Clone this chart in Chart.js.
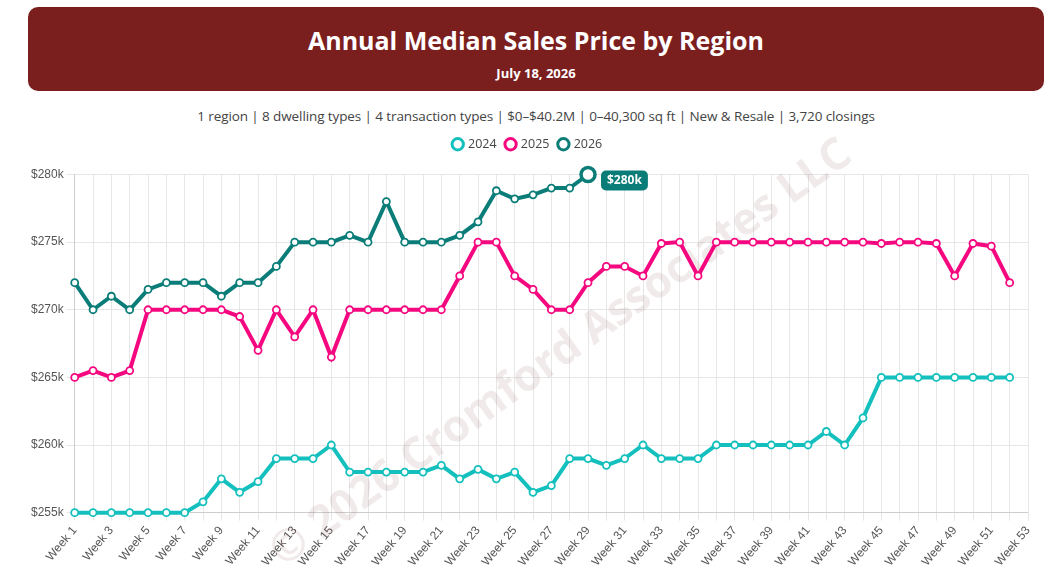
<!DOCTYPE html>
<html>
<head>
<meta charset="utf-8">
<script src="https://cdn.jsdelivr.net/npm/chart.js@4"></script>
<style>
  body { margin: 0; width: 1050px; height: 580px; background: #fff; font-family: "Open Sans", sans-serif; overflow: hidden; }
  .header { position: absolute; left: 28px; top: 7px; width: 1016px; height: 84px; background: #7b1e1e; border-radius: 10px; color: #fff; text-align: center; }
  .header h1 { margin: 16px 0 0; font-size: 25px; font-weight: 700; }
  .header .date { margin-top: 7px; font-size: 13px; font-weight: 700; }
  .sub { position: absolute; left: 0; top: 107px; width: 1072px; text-align: center; font-size: 13.5px; color: #444; letter-spacing: -0.1px; }
  .wrap { position: absolute; left: 0; top: 128px; width: 1050px; height: 452px; }
</style>
</head>
<body>
<div class="header"><h1>Annual Median Sales Price by Region</h1><div class="date">July 18, 2026</div></div>
<div class="sub">1 region | 8 dwelling types | 4 transaction types | $0–$40.2M | 0–40,300 sq ft | New &amp; Resale | 3,720 closings</div>
<div class="wrap"><canvas id="chart"></canvas></div>
<script>
// weekly labels
const weeks = [];
for (let i = 1; i <= 53; i++) weeks.push('Week ' + i);

// median price in $k
const values2024 = [255, 255, 255, 255, 255, 255, 255, 255.8, 257.5, 256.5, 257.3, 259, 259, 259, 260, 258, 258, 258, 258, 258, 258.5, 257.5, 258.2, 257.5, 258, 256.5, 257,
  259, 259, 258.5, 259, 260, 259, 259, 259, 260, 260, 260, 260, 260, 260, 261, 260, 262, 265, 265, 265, 265, 265, 265, 265, 265];
const values2025 = [265, 265.5, 265, 265.5, 270, 270, 270, 270, 270, 269.5, 267, 270, 268, 270, 266.5, 270, 270, 270, 270, 270, 270, 272.5, 275, 275, 272.5, 271.5, 270,
  270, 272, 273.2, 273.2, 272.5, 274.9, 275, 272.5, 275, 275, 275, 275, 275, 275, 275, 275, 275, 274.9, 275, 275, 274.9, 272.5, 274.9, 274.7, 272];
const values2026 = [272, 270, 271, 270, 271.5, 272, 272, 272, 271, 272, 272, 273.2, 275, 275, 275, 275.5, 275, 278, 275, 275, 275, 275.5, 276.5, 278.8, 278.2, 278.5, 279, 279, 280];
const yTicks = [255, 260, 265, 270, 275, 280];

const colors = { '2024': '#14c0bd', '2025': '#f5087f', '2026': '#0b7d78' };

function ds(label, data) {
  const last = data.length - 1;
  return {
    label: label, data: data, clip: false,
    borderColor: colors[label], backgroundColor: '#fff',
    borderWidth: 4, tension: 0,
    pointBackgroundColor: '#fff', pointBorderColor: colors[label],
    pointBorderWidth: label === '2026' ? data.map((v, i) => i === last ? 3.5 : 1.8) : 1.8,
    pointRadius: label === '2026' ? data.map((v, i) => i === last ? 7 : 3.5) : 3.5
  };
}

const overlay = {
  id: 'overlay',
  beforeDatasetsDraw(chart) {
    const { ctx, chartArea: a } = chart;
    ctx.save();
    ctx.translate((a.left + a.right) / 2 + 10, (a.top + a.bottom) / 2 + 10);
    ctx.rotate(-0.62);
    ctx.font = 'bold 44px "Open Sans"';
    ctx.fillStyle = 'rgba(150, 90, 90, 0.13)';
    ctx.textAlign = 'center';
    ctx.textBaseline = 'middle';
    ctx.fillText('© 2026 Cromford Associates LLC', 0, 0);
    ctx.restore();
  },
  afterDatasetsDraw(chart) {
    const { ctx } = chart;
    const meta = chart.getDatasetMeta(2);
    const pt = meta.data[meta.data.length - 1];
    const v = values2026[values2026.length - 1];
    const txt = '$' + v + 'k';
    ctx.save();
    ctx.font = 'bold 12px "Open Sans"';
    const w = ctx.measureText(txt).width + 12;
    const x = pt.x + 13, y = pt.y - 4;
    ctx.fillStyle = colors['2026'];
    ctx.beginPath();
    ctx.roundRect(x, y, w, 20, 5);
    ctx.fill();
    ctx.fillStyle = '#fff';
    ctx.textBaseline = 'middle';
    ctx.fillText(txt, x + 6, y + 10);
    ctx.restore();
  }
};

const legendGap = {
  id: 'legendGap',
  beforeInit(chart) {
    const fit = chart.legend.fit;
    chart.legend.fit = function () { fit.bind(chart.legend)(); this.height += 14; };
  }
};

new Chart(document.getElementById('chart'), {
  type: 'line',
  data: { labels: weeks, datasets: [ds('2024', values2024), ds('2025', values2025), ds('2026', values2026)] },
  options: {
    responsive: true, maintainAspectRatio: false, animation: false,
    layout: { padding: { left: 28, right: 22, top: 0, bottom: 8 } },
    plugins: {
      legend: {
        labels: { usePointStyle: true, pointStyle: 'circle', boxWidth: 8, boxHeight: 8, padding: 10,
          font: { family: 'Open Sans', size: 12.5 }, color: '#444',
          generateLabels(chart) {
            return chart.data.datasets.map((d, i) => ({ text: d.label, strokeStyle: d.borderColor, fillStyle: '#fff', lineWidth: 3, pointStyle: 'circle', datasetIndex: i, fontColor: '#444' }));
          } }
      },
      tooltip: { enabled: false }
    },
    scales: {
      x: {
        grid: { color: '#e6e6e6' },
        ticks: { autoSkip: false, maxRotation: 50, minRotation: 50, color: '#555', font: { family: 'Liberation Sans', size: 12 },
          callback(v, i) { return i % 2 === 0 ? weeks[i] : ''; } }
      },
      y: {
        min: yTicks[0], max: yTicks[yTicks.length - 1],
        grid: { color: '#e6e6e6' },
        afterBuildTicks(s) { s.ticks = yTicks.map(v => ({ value: v })); },
        ticks: { color: '#555', font: { family: 'Liberation Sans', size: 12 }, callback: v => '$' + v + 'k' }
      }
    }
  },
  plugins: [overlay, legendGap]
});
</script>
</body>
</html>
